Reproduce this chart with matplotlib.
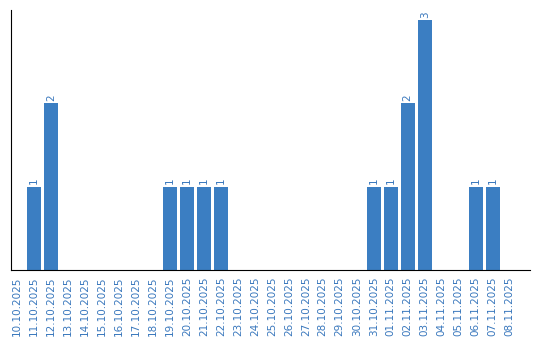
import numpy as np
import matplotlib as mpl
mpl.use('Agg')
import matplotlib.pyplot as plt

# --- data
dates = ['10.10.2025', '11.10.2025', '12.10.2025', '13.10.2025', '14.10.2025',
         '15.10.2025', '16.10.2025', '17.10.2025', '18.10.2025', '19.10.2025',
         '20.10.2025', '21.10.2025', '22.10.2025', '23.10.2025', '24.10.2025',
         '25.10.2025', '26.10.2025', '27.10.2025', '28.10.2025', '29.10.2025',
         '30.10.2025', '31.10.2025', '01.11.2025', '02.11.2025', '03.11.2025',
         '04.11.2025', '05.11.2025', '06.11.2025', '07.11.2025', '08.11.2025']
counts = [0, 1, 2, 0, 0, 0, 0, 0, 0, 1,
          1, 1, 1, 0, 0, 0, 0, 0, 0, 0,
          0, 1, 1, 2, 3, 0, 0, 1, 1, 0]

blue = '#3b7ec2'
txt = '#3a78bd'

fig = plt.figure(figsize=(5.4, 3.4), dpi=100)
ax = fig.add_axes([11/540, 70/340, 519/540, 260/340])

x = np.arange(len(dates))
bars = ax.bar(x, counts, width=0.82, color=blue)

for xi, c in zip(x, counts):
    if c > 0:
        ax.text(xi, c + 0.03, str(c), rotation=90, ha='center', va='bottom',
                color=txt, fontsize=7.5)

ax.set_xlim(-0.35, 30.2)
ax.set_ylim(0, 3.12)
ax.set_xticks(x)
ax.set_xticklabels(dates, rotation=90, color=txt, fontsize=7.5)
ax.tick_params(axis='x', length=0, pad=5)
ax.set_yticks([])
ax.spines['top'].set_visible(False)
ax.spines['right'].set_visible(False)

fig.savefig('out.png', dpi=100)
